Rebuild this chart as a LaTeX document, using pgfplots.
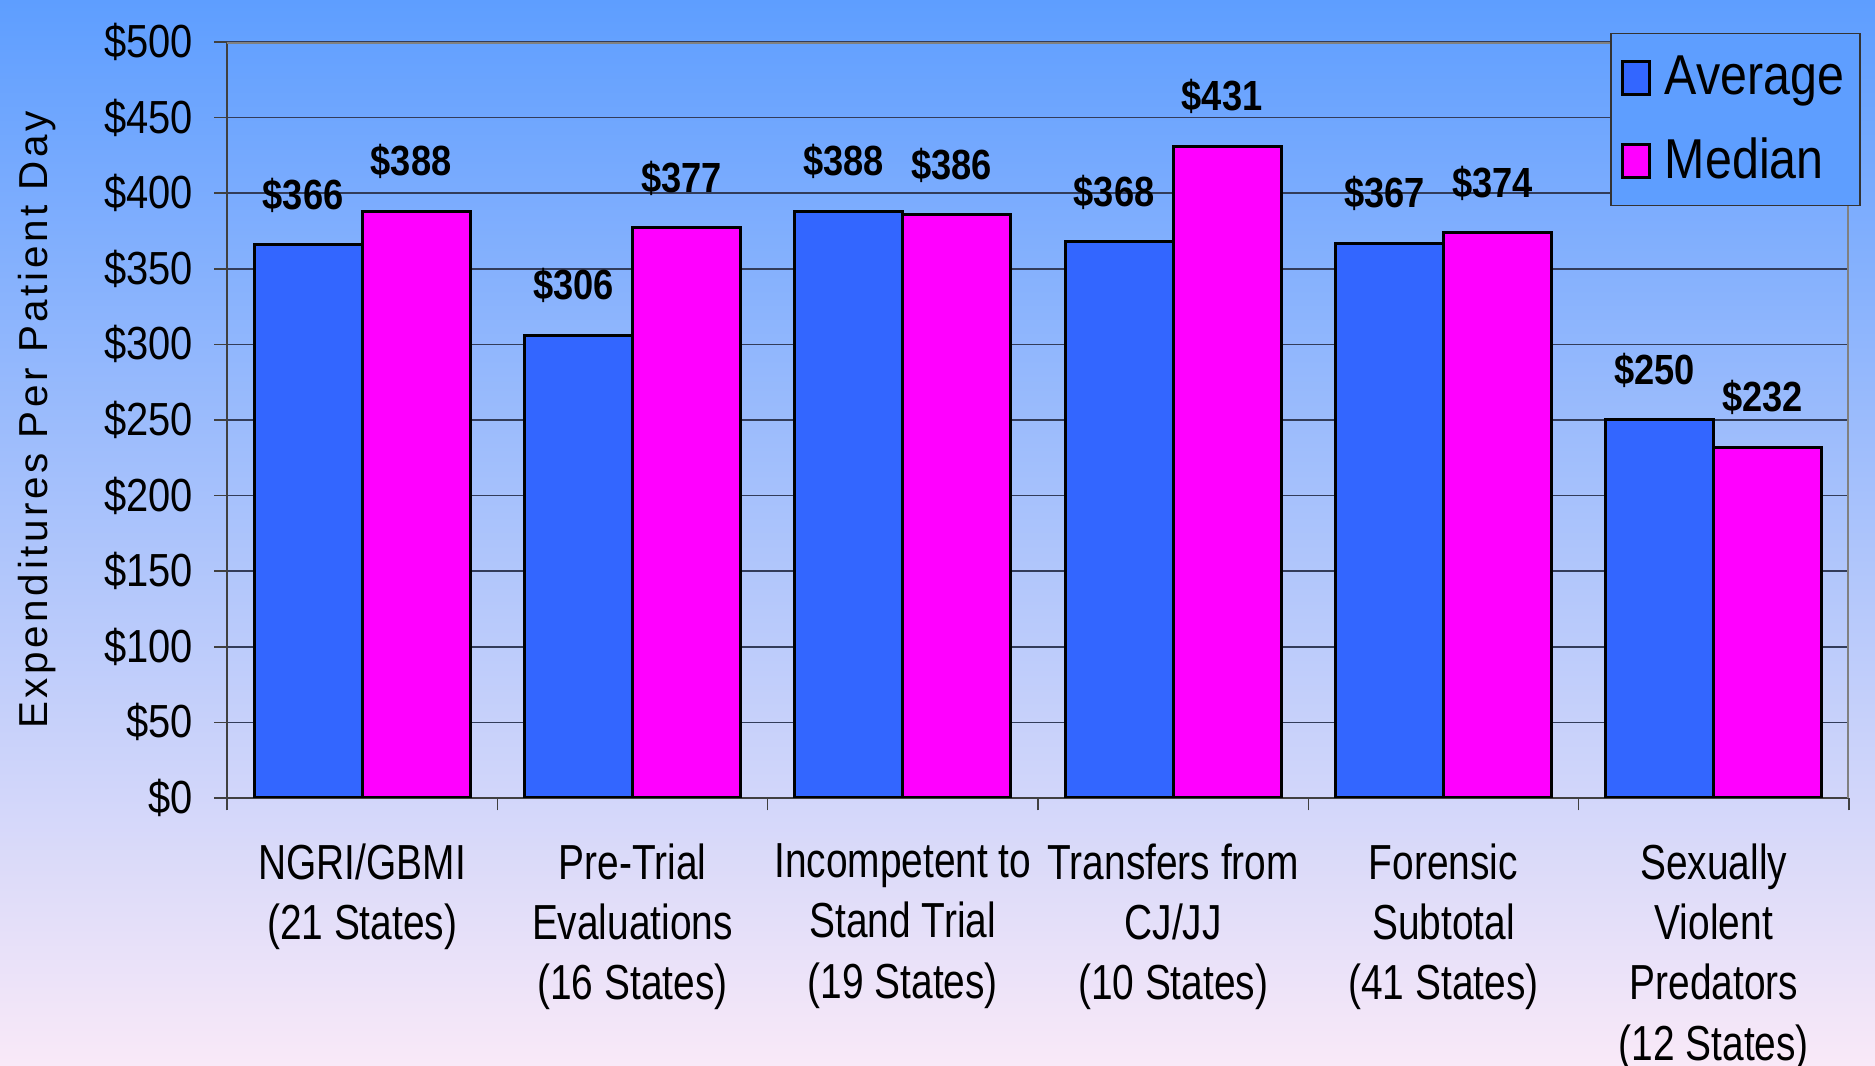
\documentclass[border=0pt]{standalone}
\usepackage{fontspec}
\setmainfont{Liberation Sans}
\newfontfamily\nar{Liberation Sans}[FakeStretch=0.86]
\newfontfamily\narc{Liberation Sans}[FakeStretch=0.79]
\newfontfamily\ylab{Liberation Sans}[LetterSpace=9]
\usepackage{pgfplots}
\pgfplotsset{compat=1.18}
\definecolor{bgtop}{RGB}{94,158,255}
\definecolor{bgmid}{RGB}{165,198,242}
\definecolor{bgbot}{RGB}{249,233,248}
\definecolor{barblue}{RGB}{51,102,255}
\definecolor{barmag}{RGB}{255,0,255}
\definecolor{gridc}{RGB}{50,60,90}
\begin{document}
\begin{tikzpicture}
\useasboundingbox (0,0) rectangle (187.5mm,106.6mm);
\shade[top color=bgtop, middle color=bgmid, bottom color=bgbot] (0,0) rectangle (187.5mm,106.6mm);
\begin{axis}[
  at={(22.7mm,26.8mm)}, anchor=south west, scale only axis,
  width=162.2mm, height=75.6mm,
  ybar=0pt, bar width=10.8mm,
  xmin=-0.5, xmax=5.5, ymin=0, ymax=500,
  /pgf/number format/assume math mode=true,
  axis x line*=bottom, axis y line*=left,
  axis line style={draw=black!75, line width=0.2mm},
  tick align=outside,
  major tick length=1.25mm,
  ytick={0,50,...,500},
  yticklabels={\$0,\$50,\$100,\$150,\$200,\$250,\$300,\$350,\$400,\$450,\$500},
  yticklabel style={font=\nar\fontsize{13.2}{15}\selectfont, xshift=-0.9mm},
  ymajorgrids, grid style={draw=gridc, line width=0.15mm},
  major tick style={draw=black!75, line width=0.15mm},
  xtick={-0.5,0.5,...,5.5},
  xticklabels={},
  extra x ticks={0,1,2,3,4,5},
  extra x tick labels={NGRI/GBMI\\(21 States), Pre-Trial\\Evaluations\\(16 States), Incompetent to\\Stand Trial\\(19 States), Transfers from\\CJ/JJ\\(10 States), Forensic\\Subtotal\\(41 States), Sexually\\Violent\\Predators\\(12 States)},
  extra x tick style={major tick length=0pt, xmajorgrids=false},
  xticklabel style={font=\narc\fontsize{14}{17.2}\selectfont, align=center, yshift=-3.3mm},
  ylabel={Expenditures Per Patient Day},
  ylabel style={font=\ylab\fontsize{11.5}{13}\selectfont, at={(axis description cs:-0.117,0.5)}, anchor=center},
  nodes near coords={\$\pgfmathprintnumber{\pgfplotspointmeta}},
  nodes near coords style={font=\nar\bfseries\fontsize{12}{14}\selectfont, yshift=1.9mm, xshift=-0.5mm},
  legend style={at={(1.0074,1.012)}, anchor=north east, fill=bgtop, draw=black!80, line width=0.15mm,
    font=\nar\fontsize{16}{19}\selectfont, inner xsep=1.0mm, inner ysep=1.6mm, row sep=2.6mm, column sep=0.8mm,
    nodes={inner sep=0.6mm}},
  legend cell align=left,
]
\addplot[fill=barblue, draw=black, line width=0.3mm,
  legend image code/.code={\draw[fill=barblue, draw=black, line width=0.3mm] (0mm,-1.7mm) rectangle (2.7mm,1.6mm);}]
  coordinates {(0,366) (1,306) (2,388) (3,368) (4,367) (5,250)};
\addlegendentry{Average}
\addplot[fill=barmag, draw=black, line width=0.3mm,
  legend image code/.code={\draw[fill=barmag, draw=black, line width=0.3mm] (0mm,-1.7mm) rectangle (2.7mm,1.6mm);}]
  coordinates {(0,388) (1,377) (2,386) (3,431) (4,374) (5,232)};
\addlegendentry{Median}
\draw[draw=gray, line width=0.3mm] (rel axis cs:0,1) -- (rel axis cs:1,1) -- (rel axis cs:1,0);
\end{axis}
\end{tikzpicture}
\end{document}
